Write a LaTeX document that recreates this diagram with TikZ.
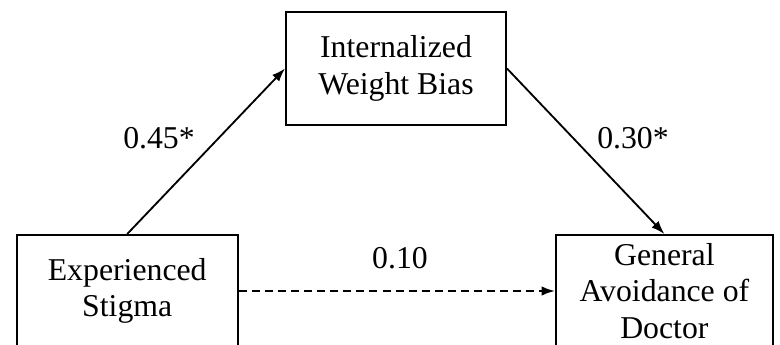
\documentclass[tikz,border=0pt]{standalone}
\usepackage{fontspec}
\setmainfont{Liberation Serif}
\usetikzlibrary{arrows,arrows.meta}
\tikzset{>={Latex[length=9.5pt,width=6.8pt]}}
\tikzstyle{var box}=[draw,line width=1.4pt,align=center,minimum height=2.8cm,
  font=\fontsize{22.6}{25.9}\selectfont]
\tikzstyle{coef}=[font=\fontsize{22.6}{25.9}\selectfont]
\tikzstyle{path arrow}=[->,line width=1.3pt]

\begin{document}
\begin{tikzpicture}
  \useasboundingbox (0,0) rectangle (19.5,8.625);
  \clip (0,0) rectangle (19.5,8.625);

  \node[var box,minimum width=5.5cm,minimum height=2.825cm] (ibias) at (9.9,6.9125)
    {Internalized\\Weight Bias};
  \node[var box,minimum width=5.525cm] (stigma) at (3.18,1.35)
    {Experienced\\Stigma};
  \node[var box,minimum width=5.425cm] (avoid) at (16.61,1.35)
    {General\\Avoidance of\\Doctor};

  \draw[path arrow] (stigma.north) -- (ibias.west);
  \draw[path arrow] (ibias.east) -- (avoid.north);
  \draw[path arrow,dash pattern=on 5.7pt off 3.6pt] (stigma.east) -- (avoid.west);

  \node[coef] (a) at (3.975,5.175) {0.45*};
  \node[coef] (b) at (15.825,5.175) {0.30*};
  \node[coef] (c) at (10.0,2.175) {0.10};
\end{tikzpicture}
\end{document}
